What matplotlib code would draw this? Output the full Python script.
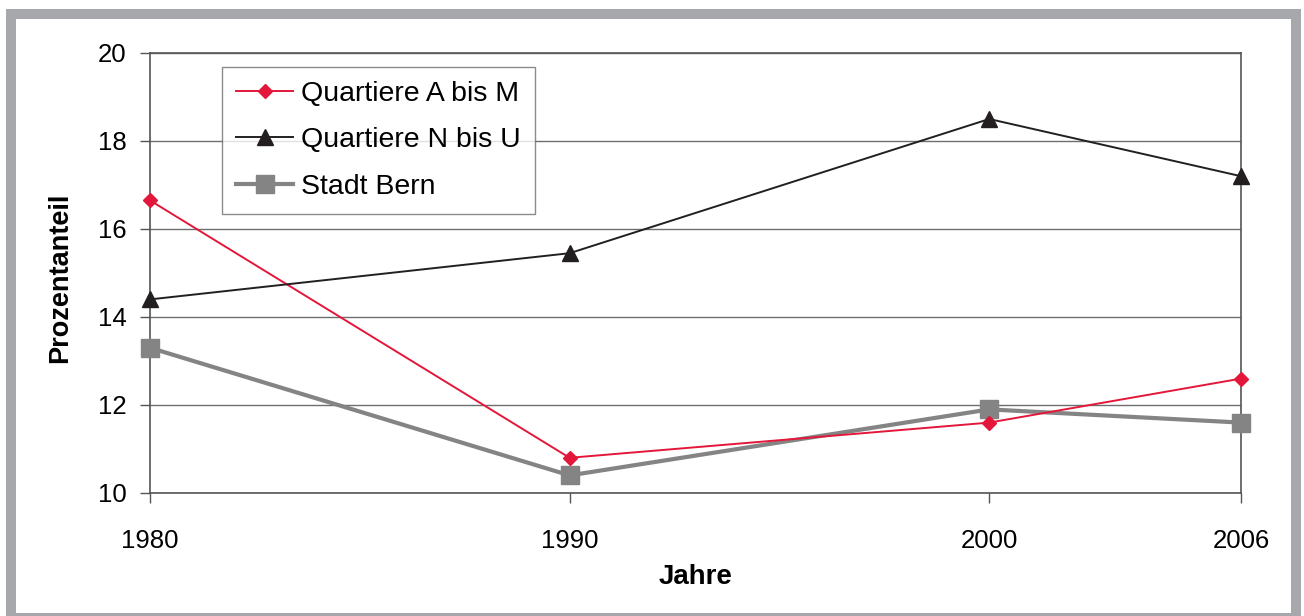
import matplotlib
matplotlib.use("Agg")
import matplotlib.pyplot as plt
from matplotlib.patches import Rectangle

years = [1980, 1990, 2000, 2006]
quartiere_a_m = [16.65, 10.8, 11.6, 12.6]
quartiere_n_u = [14.4, 15.45, 18.5, 17.2]
stadt_bern = [13.3, 10.4, 11.9, 11.6]
y_ticks = [10, 12, 14, 16, 18, 20]
x_ticks = [1980, 1990, 2000, 2006]

plt.rcParams['font.family'] = ['Liberation Sans', 'DejaVu Sans']

W, H = 1304, 616
fig = plt.figure(figsize=(W / 100, H / 100), dpi=100)

# gray frame
fig.patches.append(Rectangle((6 / W, 1 - 623 / H), (1301 - 6) / W, (623 - 9) / H,
                             transform=fig.transFigure, facecolor='#a7a8ab',
                             edgecolor='none', zorder=-10))
fig.patches.append(Rectangle((16 / W, 1 - 613 / H), (1291 - 16) / W, (613 - 19) / H,
                             transform=fig.transFigure, facecolor='white',
                             edgecolor='none', zorder=-9))

ax = fig.add_axes([150 / W, 1 - 493 / H, (1241 - 150) / W, (493 - 53) / H])
ax.set_facecolor('none')

ax.plot(years, quartiere_a_m, color='#e3173a', lw=1.4, marker='D', ms=7.5,
        label='Quartiere A bis M', zorder=5, clip_on=False)
ax.plot(years, quartiere_n_u, color='#231f20', lw=1.4, marker='^', ms=11.5,
        label='Quartiere N bis U', zorder=5, clip_on=False)
ax.plot(years, stadt_bern, color='#848484', lw=3.0, marker='s', ms=12.5,
        label='Stadt Bern', zorder=4, clip_on=False)

ax.set_xlim(1980, 2006)
ax.set_ylim(10, 20)
ax.set_xticks(x_ticks)
ax.set_yticks(y_ticks)
ax.grid(axis='y', color='#6d6e71', lw=1.0, zorder=1)
ax.set_axisbelow(True)
for s in ax.spines.values():
    s.set_color('#555555')
    s.set_linewidth(1.2)

ax.tick_params(axis='y', length=7, width=1, color='#555555', pad=10, labelsize=18.5)
ax.tick_params(axis='x', length=7, width=1, color='#555555', pad=19, labelsize=18.5)

ax.set_ylabel('Prozentanteil', fontsize=19.5, fontweight='bold')
ax.yaxis.set_label_coords(-77 / 1091, 0.49)
ax.set_xlabel('Jahre', fontsize=20, fontweight='bold', labelpad=8)

leg = ax.legend(loc='upper left', bbox_to_anchor=(72 / 1091, (493 - 67) / 440),
                borderaxespad=0, fontsize=20.5, frameon=True, fancybox=False,
                edgecolor='#6d6e71', handlelength=2.0, handletextpad=0.28,
                labelspacing=0.71, borderpad=0.5)
leg.get_frame().set_linewidth(1.0)
leg.set_zorder(6)

fig.savefig('out.png', dpi=100)
